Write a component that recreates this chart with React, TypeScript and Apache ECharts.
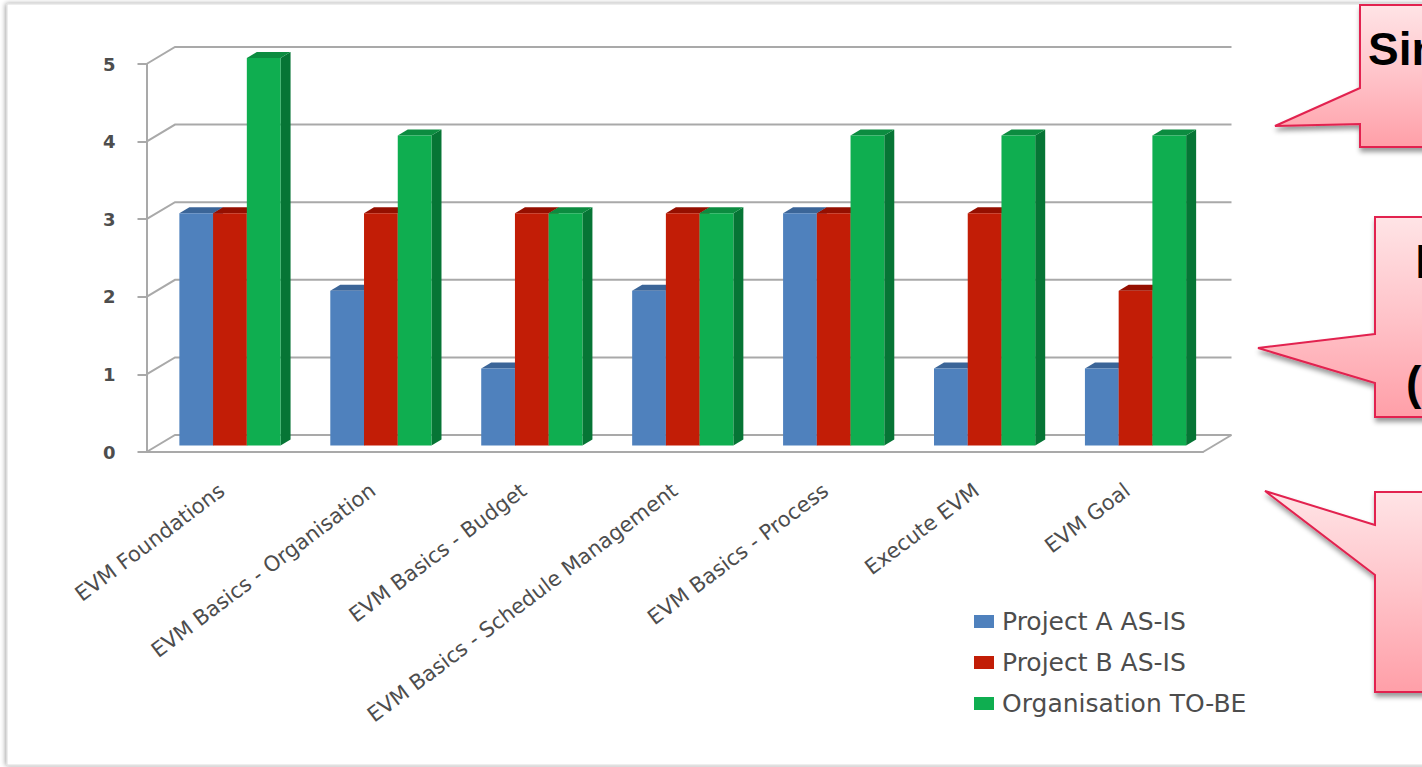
import React, { useEffect, useRef } from "react";
import * as echarts from "echarts";

const categories = [
  "EVM Foundations",
  "EVM Basics - Organisation",
  "EVM Basics - Budget",
  "EVM Basics - Schedule Management",
  "EVM Basics - Process",
  "Execute EVM",
  "EVM Goal",
];
const projectA = [3, 2, 1, 2, 3, 1, 1];
const projectB = [3, 3, 3, 3, 3, 3, 2];
const organisation = [5, 4, 3, 3, 4, 4, 4];
const yTicks = [0, 1, 2, 3, 4, 5];

const seriesNames = ["Project A AS-IS", "Project B AS-IS", "Organisation TO-BE"];
const frontColors = ["#4f81bd", "#c21d06", "#0fae50"];
const topColors = ["#3b6598", "#950f00", "#0c8c40"];
const sideColors = ["#3b6598", "#8e1000", "#067535"];

const GRID = { left: 146.5, top: 64, width: 1056.5, height: 388 };
const WALL_DX = 28.5;
const WALL_DY = -17;
const BAR_W_RATIO = 0.2235;
const DEPTH_X = 10;
const DEPTH_Y = 6;
const LINE_COLOR = "#a9a9a9";
const TEXT_COLOR = "#4d4d4d";
const FONT = "DejaVu Sans";

// Back wall, side wall and floor edges of the pseudo-3D plot box.
const renderWall = (params: any, api: any) => {
  const v = api.value(0);
  const band = api.size([1, 0])[0];
  const [cx0, y] = api.coord([0, v]);
  const [cx1] = api.coord([categories.length - 1, v]);
  const x0 = cx0 - band / 2;
  const x1 = cx1 + band / 2;
  const style = { stroke: LINE_COLOR, lineWidth: 2, fill: "none" };
  const children: any[] = [
    {
      type: "polyline",
      shape: {
        points: [
          [x0, y],
          [x0 + WALL_DX, y + WALL_DY],
          [x1 + WALL_DX, y + WALL_DY],
        ],
      },
      style,
    },
  ];
  if (v === 0) {
    children.push({
      type: "line",
      shape: { x1, y1: y, x2: x1 + WALL_DX, y2: y + WALL_DY },
      style,
    });
  }
  return { type: "group", children };
};

// One extruded column: front face plus its top and right faces.
const makeBarRenderer = (seriesIndex: number) => (params: any, api: any) => {
  const idx = api.value(0);
  const val = api.value(1);
  const band = api.size([1, 0])[0];
  const w = band * BAR_W_RATIO;
  const [cx, yTop] = api.coord([idx, val]);
  const [, yBase] = api.coord([idx, 0]);
  const x = cx + 8 + (seriesIndex - 1.5) * w;
  const top = yTop - 6;
  const base = yBase - 6.5;
  return {
    type: "group",
    children: [
      {
        type: "polygon",
        shape: {
          points: [
            [x + w, top],
            [x + w + DEPTH_X, top - DEPTH_Y],
            [x + w + DEPTH_X, base - DEPTH_Y],
            [x + w, base],
          ],
        },
        style: { fill: sideColors[seriesIndex] },
      },
      {
        type: "polygon",
        shape: {
          points: [
            [x, top],
            [x + DEPTH_X, top - DEPTH_Y],
            [x + w + DEPTH_X, top - DEPTH_Y],
            [x + w, top],
          ],
        },
        style: { fill: topColors[seriesIndex] },
      },
      {
        type: "rect",
        shape: { x, y: top, width: w, height: base - top },
        style: { fill: frontColors[seriesIndex] },
      },
    ],
  };
};

const calloutFill = new echarts.graphic.LinearGradient(0, 0, 0, 1, [
  { offset: 0, color: "#ffe4e6" },
  { offset: 0.5, color: "#ffc3c9" },
  { offset: 1, color: "#ff9fa8" },
]);

const callout = (points: number[][]) => ({
  type: "polygon",
  z: 10,
  shape: { points },
  style: {
    fill: calloutFill,
    stroke: "#e2224f",
    lineWidth: 2,
    shadowBlur: 5,
    shadowOffsetX: 1,
    shadowOffsetY: 4,
    shadowColor: "rgba(0,0,0,0.4)",
  },
});

const calloutText = (text: string, x: number, y: number, size: number, weight: string) => ({
  type: "text",
  z: 11,
  x,
  y,
  style: {
    text,
    fill: "#000",
    font: `${weight} ${size}px "Liberation Sans"`,
    textVerticalAlign: "middle",
  },
});

export default function App() {
  const ref = useRef<HTMLDivElement>(null);
  useEffect(() => {
    const chart = echarts.init(ref.current!, undefined, { renderer: "svg" });
    const values = [projectA, projectB, organisation];
    chart.setOption({
      animation: false,
      backgroundColor: "#fff",
      grid: GRID,
      xAxis: {
        type: "category",
        data: categories,
        axisLine: { lineStyle: { color: LINE_COLOR, width: 2 } },
        axisTick: { length: 7, lineStyle: { color: LINE_COLOR, width: 2 } },
        axisLabel: {
          interval: 0,
          rotate: 37,
          margin: 36,
          color: TEXT_COLOR,
          fontFamily: FONT,
          fontSize: 21,
        },
      },
      yAxis: {
        type: "value",
        min: 0,
        max: 5,
        interval: 1,
        splitLine: { show: false },
        axisLine: { show: true, lineStyle: { color: LINE_COLOR, width: 2 } },
        axisTick: { show: true, length: 9, lineStyle: { color: LINE_COLOR, width: 2 } },
        axisLabel: {
          margin: 31,
          color: TEXT_COLOR,
          fontFamily: FONT,
          fontWeight: "bold",
          fontSize: 18,
        },
      },
      legend: {
        orient: "vertical",
        left: 969,
        top: 604,
        data: seriesNames,
        icon: "rect",
        itemWidth: 20,
        itemHeight: 13,
        itemGap: 16,
        textStyle: {
          color: TEXT_COLOR,
          fontFamily: FONT,
          fontSize: 25,
          padding: [0, 0, 0, 3],
        },
      },
      series: [
        {
          type: "custom",
          name: "wall",
          z: 1,
          silent: true,
          clip: false,
          data: yTicks.map((t) => [t]),
          encode: { y: 0 },
          renderItem: renderWall,
        },
        ...seriesNames.map((name, i) => ({
          type: "custom",
          name,
          z: 3 + i,
          clip: false,
          itemStyle: { color: frontColors[i] },
          data: values[i].map((v, idx) => [idx, v]),
          encode: { x: 0, y: 1 },
          renderItem: makeBarRenderer(i),
        })),
      ],
      graphic: [
        {
          type: "rect",
          z: -1,
          shape: { x: 7, y: 4, width: 1600, height: 761 },
          style: {
            fill: "#fff",
            stroke: "#dcdcdc",
            lineWidth: 1,
            shadowBlur: 5,
            shadowOffsetX: -1,
            shadowColor: "rgba(0,0,0,0.4)",
          },
        },
        callout([
          [1360, 88],
          [1275, 126],
          [1360, 124],
          [1360, 147],
          [1480, 147],
          [1480, 5],
          [1360, 5],
        ]),
        callout([
          [1375, 334],
          [1258, 348],
          [1375, 383],
          [1375, 417],
          [1480, 417],
          [1480, 217],
          [1375, 217],
        ]),
        callout([
          [1375, 525],
          [1265, 491],
          [1375, 575],
          [1375, 692],
          [1480, 692],
          [1480, 492],
          [1375, 492],
        ]),
        calloutText("Sin", 1368, 49, 46, "bold"),
        calloutText("I", 1414, 261, 48, "normal"),
        calloutText("(", 1406, 383, 46, "bold"),
      ],
    });
    return () => chart.dispose();
  }, []);
  return (
    <div
      ref={ref}
      style={{ position: "fixed", left: 0, top: 0, width: 1422, height: 767, overflow: "hidden" }}
    />
  );
}
